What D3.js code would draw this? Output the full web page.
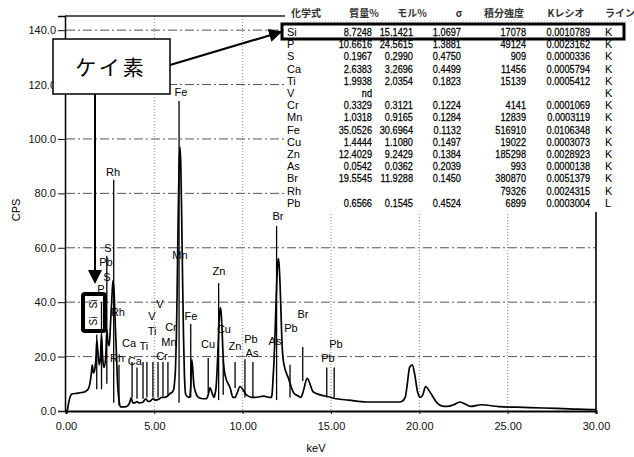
<!DOCTYPE html>
<html><head><meta charset="utf-8">
<script src="https://cdn.jsdelivr.net/npm/d3@7"></script>
<style>body{margin:0;background:#fff}svg{display:block}</style>
</head><body><svg id="c" width="634" height="457"></svg>
<script>
// ---------------- data ----------------
const spectrumKeV = [0.00,0.08,0.15,0.25,0.35,0.60,0.90,1.10,1.25,1.35,1.42,1.49,1.55,1.62,1.70,1.74,1.80,1.88,1.95,2.01,2.07,2.15,2.25,2.31,2.38,2.45,2.52,2.60,2.66,2.72,2.80,2.85,2.92,3.00,3.08,3.30,3.50,3.60,3.69,3.78,3.90,4.01,4.12,4.35,4.51,4.65,4.80,4.93,5.05,5.25,5.41,5.55,5.75,5.90,6.02,6.10,6.15,6.20,6.25,6.30,6.35,6.40,6.45,6.50,6.55,6.60,6.65,6.70,6.78,6.95,7.00,7.06,7.12,7.25,7.50,7.80,7.95,8.05,8.15,8.30,8.39,8.44,8.49,8.54,8.59,8.64,8.69,8.74,8.79,8.84,8.89,9.00,9.30,9.45,9.57,9.68,9.85,10.2,10.5,10.7,11.2,11.52,11.62,11.67,11.72,11.77,11.82,11.87,11.92,11.97,12.02,12.07,12.12,12.17,12.22,12.32,12.6,12.9,13.15,13.29,13.42,13.65,14.0,15.0,15.3,16.0,17.0,18.0,18.5,18.8,19.0,19.2,19.32,19.45,19.6,19.75,19.9,20.07,20.2,20.35,20.6,21.0,21.3,21.6,21.9,22.3,22.7,22.9,23.5,24.5,25.5,27.0,28.5,30.0];
const spectrumCps = [0,0.5,3,5.5,6.3,6.5,6.8,7.2,8,10,13,17,14,15,20,26,22,17,20,28,20,16,20,30,25,24,32,42,48,44,30,22,10,4,1.5,1.5,2,3,4.8,3,3,3.5,3,3.2,4.5,3.5,3.8,4.5,4,4.3,5,5,5.5,6.5,7,8,11,16,28,48,71,90,97,90,71,48,28,14,6,5,5,9,19,9,5,4.5,4.5,6,8.5,6,5,6.5,8.3,13.3,20.5,29,35.5,38,35.5,29,20.5,13.3,8.3,5,5,6.5,9,6,5,5,5.5,5,5,6.5,11.9,17.7,26,36,45.8,53.2,56,53.2,45.8,36,26,17.7,11.9,6.5,5.5,5,7,12,7,5,4.5,4,3.3,3.3,3.3,3.3,3.5,5,10,16,17,13,7,5,6,9,7,3,1.8,1.7,2.2,3.3,2.2,1.7,2.3,1.6,1.4,1.1,0.8,0.5,0.3,0.2];

const xTicks = [0,5,10,15,20,25,30];
const yTicks = [0,20,40,60,80,100,120,140];

// element marker lines (keV, top cps, bottom cps)
const markerKeV    = [1.74,2.01,2.31,2.70,3.00,3.74,4.02,4.36,4.58,4.92,5.21,5.49,5.77,6.40,7.06,8.05,8.64,8.90,9.57,10.13,10.58,11.92,12.68,13.40,14.76,15.18];
const markerTop    = [28,40,57,85,17,18,16,18,18,18,18,18,18,114,32,19.5,47,19,18,19,18,68,17,23.5,16,16];
const markerBottom = [8,8,10,3,2,5,4.5,4.5,5,5,5,5.5,6,3,5,6.6,4,6,8.5,5,5,4,5,11,5,5];

// marker labels (text, centre keV, baseline cps)
const labelText = ["Rh","S","Pb","S","P","Rh","Rh","Ca","Ca","Ti","Ti","V","V","Cr","Cr","Mn","Mn","Fe","Fe","Cu","Cu","Zn","Zn","Pb","As","As","Br","Pb","Br","Pb","Pb"];
const labelKeV  = [2.66,2.38,2.26,2.32,1.98,2.94,2.89,3.57,3.90,4.41,4.87,4.87,5.32,5.43,5.94,5.83,6.45,6.51,7.07,8.04,8.94,8.66,9.56,10.47,10.53,11.83,12.0,12.73,13.41,14.83,15.28];
const labelCps  = [86.4,58.5,53.3,47.8,43.4,34.9,18.0,23.5,16.9,22.4,27.9,33.5,37.9,18.8,29.4,23.9,55.9,115.8,33.5,23.2,28.7,50.0,22.4,25.0,19.9,24.3,70.2,29.0,34.2,18.0,23.2];
const siLabelKeV = [1.58,1.58];
const siLabelCps = [39.3,33.1];

// quantification table
const tableHeader   = ["化学式","質量%","モル%","σ","積分強度","Kレシオ","ライン"];
const tableElements = ["Si","P","S","Ca","Ti","V","Cr","Mn","Fe","Cu","Zn","As","Br","Rh","Pb"];
const massPct   = ["8.7248","10.6616","0.1967","2.6383","1.9938","nd","0.3329","1.0318","35.0526","1.4444","12.4029","0.0542","19.5545","","0.6566"];
const molPct    = ["15.1421","24.5615","0.2990","3.2696","2.0354","","0.3121","0.9165","30.6964","1.1080","9.2429","0.0362","11.9288","","0.1545"];
const sigmaVal  = ["1.0697","1.3881","0.4750","0.4499","0.1823","","0.1224","0.1284","0.1132","0.1497","0.1384","0.2039","0.1450","","0.4524"];
const intensity = ["17078","49124","909","11456","15139","","4141","12839","516910","19022","185298","993","380870","79326","6899"];
const kRatio    = ["0.0010789","0.0023162","0.0000336","0.0005794","0.0005412","","0.0001069","0.0003119","0.0106348","0.0003073","0.0028923","0.0000138","0.0051379","0.0024315","0.0003004"];
const lineType  = ["K","K","K","K","K","K","K","K","K","K","K","K","K","K","L"];

// ---------------- drawing ----------------
const svg = d3.select("#c");
const x = d3.scaleLinear().domain([0,30]).range([66,596]);
const y = d3.scaleLinear().domain([0,145.2]).range([411,16]);
const sans = "'Liberation Sans',Arial,sans-serif";
const cjk = "'Noto Sans CJK JP','Noto Sans CJK SC',sans-serif";

// grid
svg.append("g").selectAll("line").data(yTicks.filter(d=>d>0)).join("line")
  .attr("x1",66).attr("x2",595).attr("y1",d=>y(d)).attr("y2",d=>y(d))
  .attr("stroke","#555").attr("stroke-width",1).attr("stroke-dasharray","9,3,2,3");
svg.append("g").selectAll("line").data(xTicks.filter(d=>d>0&&d<30)).join("line")
  .attr("x1",d=>x(d)).attr("x2",d=>x(d)).attr("y1",16).attr("y2",411)
  .attr("stroke","#888").attr("stroke-width",1).attr("stroke-dasharray","1,2");

// frame
svg.append("line").attr("x1",65).attr("x2",292).attr("y1",16).attr("y2",16).attr("stroke","#222").attr("stroke-width",1.5);
svg.append("line").attr("x1",596).attr("x2",596).attr("y1",16).attr("y2",411).attr("stroke","#333").attr("stroke-width",2);

// marker lines
svg.append("g").selectAll("line").data(markerKeV).join("line")
  .attr("x1",d=>x(d)).attr("x2",d=>x(d))
  .attr("y1",(d,i)=>y(markerTop[i])).attr("y2",(d,i)=>y(markerBottom[i]))
  .attr("stroke","#000").attr("stroke-width",1.3);

// spectrum
const line = d3.line().x((d,i)=>x(spectrumKeV[i])).y(d=>y(d)).curve(d3.curveMonotoneX);
svg.append("path").datum(spectrumCps).attr("d",line)
  .attr("fill","none").attr("stroke","#000").attr("stroke-width",1.7).attr("stroke-linejoin","round");

// marker labels
svg.append("g").selectAll("text").data(labelText).join("text")
  .attr("x",(d,i)=>x(labelKeV[i])).attr("y",(d,i)=>y(labelCps[i]))
  .attr("text-anchor","middle").attr("font-family",sans).attr("font-size",11).attr("fill","#000")
  .text(d=>d);
svg.append("g").selectAll("text").data(siLabelKeV).join("text")
  .attr("transform",(d,i)=>`translate(${x(d)},${y(siLabelCps[i])}) rotate(-90)`)
  .attr("text-anchor","middle").attr("dy","0.35em").attr("font-family",sans).attr("font-size",10)
  .text("Si");

// axes
const xAxis = svg.append("g").attr("transform","translate(0,411)")
  .call(d3.axisBottom(x).tickValues(xTicks).tickFormat(d3.format(".2f")).tickSize(3).tickPadding(8));
const yAxis = svg.append("g").attr("transform","translate(65,0)")
  .call(d3.axisLeft(y).tickValues(yTicks).tickFormat(d3.format(".1f")).tickSize(7).tickPadding(2));
[xAxis,yAxis].forEach(a=>{
  a.selectAll("text").attr("font-family",sans).attr("font-size",11).attr("fill","#111");
  a.selectAll("line").attr("stroke","#111");
});
xAxis.select(".domain").attr("stroke","#000").attr("stroke-width",2.2);
yAxis.select(".domain").attr("stroke","#000").attr("stroke-width",1.5);
svg.append("text").attr("x",316).attr("y",452).attr("text-anchor","middle")
  .attr("font-family",sans).attr("font-size",11).text("keV");
svg.append("text").attr("transform","translate(20,210) rotate(-90)").attr("text-anchor","middle")
  .attr("font-family",sans).attr("font-size",11).text("CPS");

// table panel
svg.append("rect").attr("x",285).attr("y",0).attr("width",349).attr("height",212).attr("fill","#fff");
const colRight = [372,413,461,526,590];
const colHeaderX = [306,364,412,459,504,566,620];
svg.append("g").selectAll("text").data(tableHeader).join("text")
  .attr("x",(d,i)=>colHeaderX[i]).attr("y",17).attr("text-anchor","middle")
  .attr("font-family",cjk).attr("font-size",10).attr("font-weight","bold").attr("fill","#333").text(d=>d);
svg.append("line").attr("x1",292).attr("x2",634).attr("y1",21).attr("y2",21)
  .attr("stroke","#bbb").attr("stroke-dasharray","1,2");
const rowY = i => 36 + 12.2*i;
const rows = svg.append("g");
rows.selectAll("text.el").data(tableElements).join("text").attr("class","el")
  .attr("x",287).attr("y",(d,i)=>rowY(i)).attr("font-family",sans).attr("font-size",11).text(d=>d);
[massPct,molPct,sigmaVal,intensity,kRatio].forEach((col,c)=>{
  rows.append("g").selectAll("text").data(col).join("text")
    .attr("transform",(d,i)=>`translate(${colRight[c]},${rowY(i)}) scale(0.8,1)`)
    .attr("text-anchor","end")
    .attr("font-family",sans).attr("font-size",11.5).attr("fill","#000")
    .attr("stroke","#000").attr("stroke-width",0.25).text(d=>d);
});
rows.append("g").selectAll("text").data(lineType).join("text")
  .attr("x",605).attr("y",(d,i)=>rowY(i)).attr("font-family",sans).attr("font-size",11).text(d=>d);
// Si highlight
svg.append("rect").attr("x",282).attr("y",24).attr("width",342).attr("height",15)
  .attr("fill","none").attr("stroke","#000").attr("stroke-width",3);

// callout box
svg.append("defs").append("marker").attr("id","ah").attr("viewBox","0 0 10 10")
  .attr("refX",9).attr("refY",5).attr("markerWidth",7).attr("markerHeight",6).attr("orient","auto")
  .attr("markerUnits","strokeWidth")
  .append("path").attr("d","M0,0L10,5L0,10Z").attr("fill","#000");
svg.append("line").attr("x1",170).attr("y1",65).attr("x2",281).attr("y2",32)
  .attr("stroke","#000").attr("stroke-width",2.2).attr("marker-end","url(#ah)");
svg.append("line").attr("x1",95).attr("y1",94).attr("x2",95).attr("y2",272)
  .attr("stroke","#000").attr("stroke-width",2);
svg.append("path").attr("d","M88,270L102,270L95,284Z").attr("fill","#000");
svg.append("rect").attr("x",53).attr("y",39).attr("width",117).attr("height",55)
  .attr("fill","#fff").attr("stroke","#000").attr("stroke-width",1.5);
svg.append("text").attr("x",111).attr("y",75).attr("text-anchor","middle")
  .attr("font-family",cjk).attr("font-size",21).attr("letter-spacing",3).text("ケイ素");
// Si peak box
svg.append("rect").attr("x",83).attr("y",294).attr("width",22).attr("height",37).attr("rx",2)
  .attr("fill","none").attr("stroke","#000").attr("stroke-width",4);
</script></body></html>
